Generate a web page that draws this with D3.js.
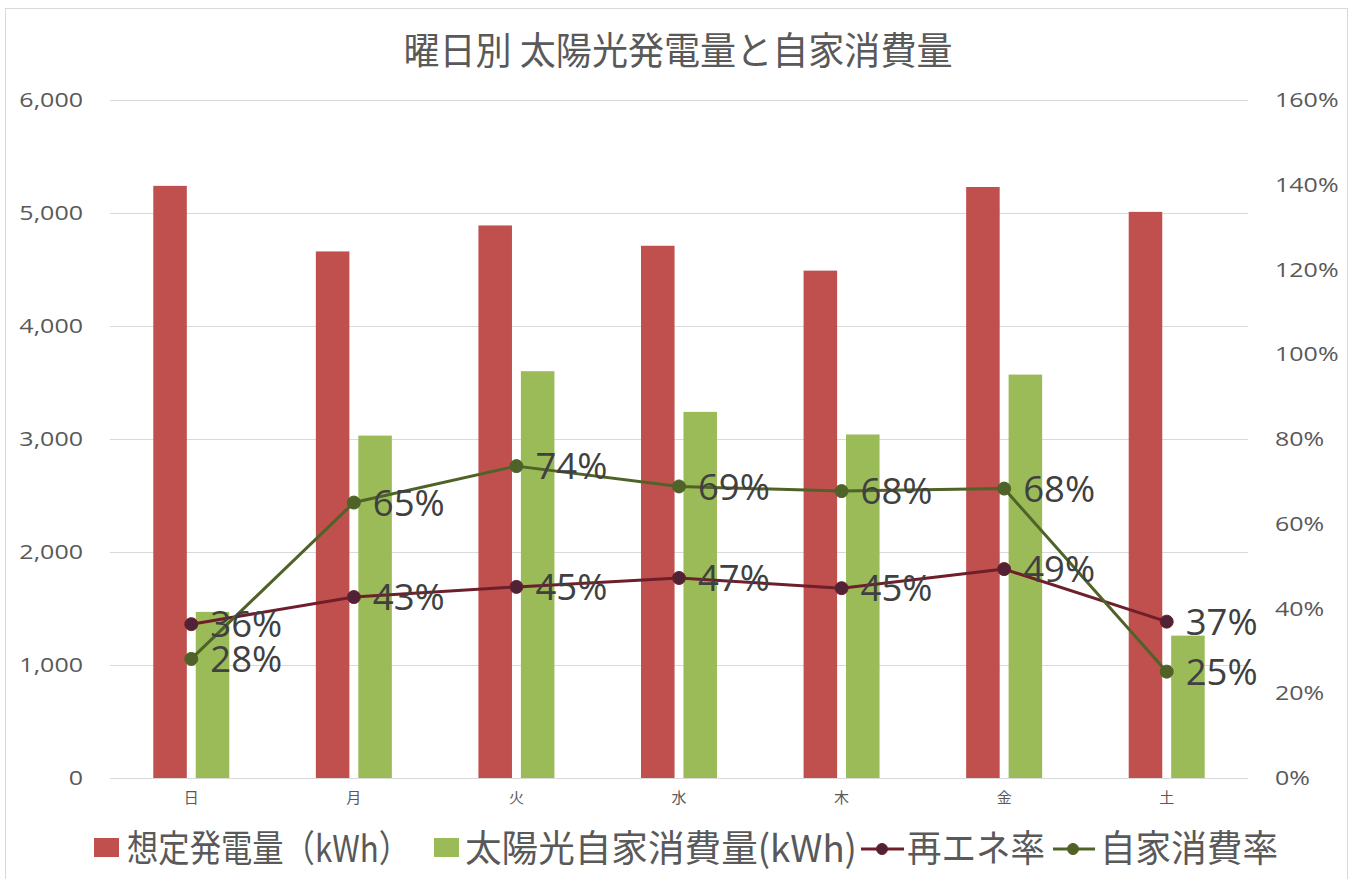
<!DOCTYPE html>
<html>
<head>
<meta charset="utf-8">
<script src="https://cdn.jsdelivr.net/npm/d3@7"></script>
<style>
  body { margin: 0; background: #ffffff; }
  svg { display: block; }
</style>
</head>
<body>
<svg id="chart" width="1362" height="879"></svg>
<script>
// ---- data ----
const categories = ["日", "月", "火", "水", "木", "金", "土"];
const generation = [5240, 4660, 4890, 4710, 4490, 5230, 5010];       // 想定発電量（kWh）
const selfConsumption = [1470, 3030, 3600, 3240, 3040, 3570, 1260];  // 太陽光自家消費量(kWh)
const renewableRate = [0.363, 0.427, 0.451, 0.472, 0.448, 0.493, 0.369]; // 再エネ率
const selfRate = [0.281, 0.650, 0.736, 0.688, 0.677, 0.683, 0.251];      // 自家消費率
const leftTicks = [0, 1000, 2000, 3000, 4000, 5000, 6000];
const rightTicks = [0, 0.2, 0.4, 0.6, 0.8, 1.0, 1.2, 1.4, 1.6];
const seriesNames = ["想定発電量（kWh）", "太陽光自家消費量(kWh)", "再エネ率", "自家消費率"];
const titleText = "曜日別 太陽光発電量と自家消費量";

// ---- style ----
const C = {
  red: "#c0504d", green: "#9bbb59",
  reLine: "#6e1f2b", reMarker: "#4f2236",
  srLine: "#4f6228", srMarker: "#4f6228",
  grid: "#d9d9d9", axisText: "#595959", label: "#404040"
};
const cjk = "'Noto Sans CJK JP', 'Noto Sans', sans-serif";
const latin = "'Open Sans', 'Noto Sans', sans-serif";

const svg = d3.select("#chart");
const plot = { left: 110, right: 1248, top: 100, bottom: 778 };

// chart border
svg.append("rect").attr("x", 5.5).attr("y", 8.5).attr("width", 1342).attr("height", 880)
  .attr("fill", "#fff").attr("stroke", C.grid).attr("stroke-width", 1);

// scales
const x = d3.scaleBand().domain(categories).range([plot.left, plot.right]).padding(0);
const x1 = d3.scaleBand().domain([0, 1]).range([-38, 38]).paddingInner(0.21);
const y = d3.scaleLinear().domain([0, 6000]).range([plot.bottom, plot.top]);
const y2 = d3.scaleLinear().domain([0, 1.6]).range([plot.bottom, plot.top]);
const cx = c => x(c) + x.bandwidth() / 2;

// title
svg.append("text").attr("x", 678).attr("y", 64).attr("text-anchor", "middle")
  .attr("font-family", cjk).attr("font-size", 38).attr("fill", C.axisText)
  .attr("textLength", 549).attr("lengthAdjust", "spacingAndGlyphs")
  .text(titleText);

// gridlines
svg.append("g").selectAll("line").data(leftTicks.filter(d => d > 0)).join("line")
  .attr("x1", plot.left).attr("x2", plot.right)
  .attr("y1", d => Math.round(y(d)) + 0.5).attr("y2", d => Math.round(y(d)) + 0.5)
  .attr("stroke", C.grid).attr("stroke-width", 1);

// left axis
const gL = svg.append("g").attr("transform", `translate(${plot.left},0)`)
  .call(d3.axisLeft(y).tickValues(leftTicks).tickFormat(d3.format(",")).tickSize(0).tickPadding(0));
gL.select(".domain").remove();
gL.selectAll("text").attr("x", null)
  .attr("transform", "translate(-27,0) scale(1.22,1)")
  .attr("font-family", latin).attr("font-size", 20.5).attr("fill", C.axisText);

// right axis
const gR = svg.append("g").attr("transform", `translate(${plot.right},0)`)
  .call(d3.axisRight(y2).tickValues(rightTicks).tickFormat(d3.format(".0%")).tickSize(0).tickPadding(0));
gR.select(".domain").remove();
gR.selectAll("text").attr("x", null)
  .attr("transform", "translate(27,0) scale(1.22,1)")
  .attr("text-anchor", "start")
  .attr("font-family", latin).attr("font-size", 20.5).attr("fill", C.axisText);

// bars
const bars = svg.append("g");
bars.selectAll("rect.gen").data(categories).join("rect").attr("class", "gen")
  .attr("x", (c) => cx(c) + x1(0)).attr("width", x1.bandwidth())
  .attr("y", (c, i) => y(generation[i])).attr("height", (c, i) => y(0) - y(generation[i]))
  .attr("fill", C.red);
bars.selectAll("rect.self").data(categories).join("rect").attr("class", "self")
  .attr("x", (c) => cx(c) + x1(1)).attr("width", x1.bandwidth())
  .attr("y", (c, i) => y(selfConsumption[i])).attr("height", (c, i) => y(0) - y(selfConsumption[i]))
  .attr("fill", C.green);

// bottom axis
const gB = svg.append("g").attr("transform", `translate(0,${plot.bottom})`)
  .call(d3.axisBottom(x).tickSize(0).tickPadding(14));
gB.select(".domain").attr("stroke", C.grid).attr("d", `M${plot.left},0.5H${plot.right}`);
gB.selectAll("text").attr("font-family", cjk).attr("font-size", 15).attr("fill", C.axisText);

// lines
const lineGen = vals => d3.line().x((c) => cx(c)).y((c, i) => y2(vals[i]))(categories);
const fmt = d3.format(".0%");
function drawSeries(vals, lineColor, markerColor) {
  const g = svg.append("g");
  g.append("path").attr("d", lineGen(vals)).attr("fill", "none")
    .attr("stroke", lineColor).attr("stroke-width", 3).attr("stroke-linejoin", "round");
  g.selectAll("circle").data(categories).join("circle")
    .attr("cx", c => cx(c)).attr("cy", (c, i) => y2(vals[i])).attr("r", 6.5)
    .attr("fill", markerColor).attr("stroke", lineColor).attr("stroke-width", 1);
  return g;
}
drawSeries(renewableRate, C.reLine, C.reMarker);
drawSeries(selfRate, C.srLine, C.srMarker);

// data labels
function drawLabels(vals) {
  svg.append("g").selectAll("text").data(categories).join("text")
    .attr("x", c => cx(c) + 19).attr("y", (c, i) => y2(vals[i])).attr("dy", "0.36em")
    .attr("font-family", latin).attr("font-size", 36.5).attr("fill", C.label)
    .text((c, i) => fmt(vals[i]));
}
drawLabels(renewableRate);
drawLabels(selfRate);

// legend
const lg = svg.append("g");
const ly = 849;
lg.append("rect").attr("x", 94).attr("y", 838).attr("width", 25).attr("height", 19).attr("fill", C.red);
lg.append("text").attr("x", 127).attr("y", ly).attr("dy", "0.36em")
  .attr("font-family", cjk).attr("font-size", 37).attr("fill", C.axisText)
  .attr("textLength", 283).attr("lengthAdjust", "spacingAndGlyphs").text(seriesNames[0]);
lg.append("rect").attr("x", 434).attr("y", 838).attr("width", 25).attr("height", 19).attr("fill", C.green);
lg.append("text").attr("x", 465).attr("y", ly).attr("dy", "0.36em")
  .attr("font-family", cjk).attr("font-size", 37).attr("fill", C.axisText)
  .attr("textLength", 392).attr("lengthAdjust", "spacingAndGlyphs").text(seriesNames[1]);
// line legend 1
lg.append("line").attr("x1", 861).attr("x2", 904).attr("y1", ly).attr("y2", ly)
  .attr("stroke", C.reLine).attr("stroke-width", 3);
lg.append("circle").attr("cx", 882).attr("cy", ly).attr("r", 5.5).attr("fill", C.reMarker).attr("stroke", C.reLine);
lg.append("text").attr("x", 907).attr("y", ly).attr("dy", "0.36em")
  .attr("font-family", cjk).attr("font-size", 37).attr("fill", C.axisText)
  .attr("textLength", 138).attr("lengthAdjust", "spacingAndGlyphs").text(seriesNames[2]);
// line legend 2
lg.append("line").attr("x1", 1053).attr("x2", 1095).attr("y1", ly).attr("y2", ly)
  .attr("stroke", C.srLine).attr("stroke-width", 3);
lg.append("circle").attr("cx", 1073).attr("cy", ly).attr("r", 5.5).attr("fill", C.srMarker).attr("stroke", C.srLine);
lg.append("text").attr("x", 1100).attr("y", ly).attr("dy", "0.36em")
  .attr("font-family", cjk).attr("font-size", 37).attr("fill", C.axisText)
  .attr("textLength", 178).attr("lengthAdjust", "spacingAndGlyphs").text(seriesNames[3]);
</script>
</body>
</html>
